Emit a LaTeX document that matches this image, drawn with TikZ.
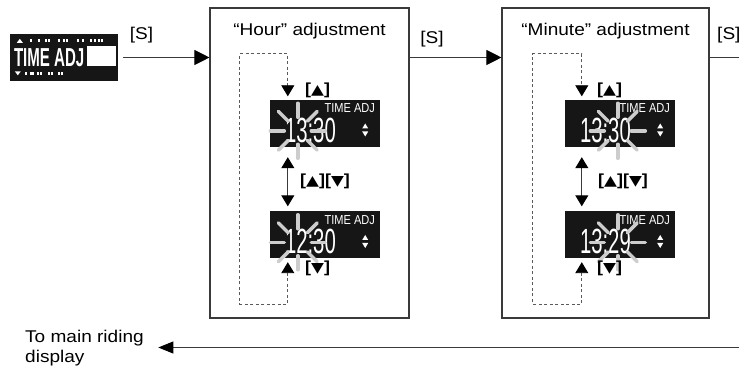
\documentclass[tikz,border=0pt]{standalone}
\usepackage{fontspec}
\usepackage{graphicx}
\setmainfont{Liberation Sans}[FakeStretch=1.12]
\newfontfamily\lcdfont{Liberation Sans}[FakeStretch=0.58]
\newfontfamily\lcdsmallfont{Liberation Sans}[FakeStretch=0.85]
\newfontfamily\symfont{DejaVu Sans}
\usetikzlibrary{arrows.meta,calc}
\definecolor{linegray}{HTML}{3A3A3A}
\definecolor{dashgray}{HTML}{5A5A5A}
\definecolor{raygray}{HTML}{CDCDCD}
\definecolor{lcdblack}{HTML}{161616}
\newcommand\kup{\scalebox{1.2}[1]{\symfont\fontsize{14}{14}\selectfont ▲}}
\newcommand\kdn{\scalebox{1.2}[1]{\symfont\fontsize{14}{14}\selectfont ▼}}
\newcommand\lcdscreen[4]{%
  \node[lcd] (#1) at (#2) {};
  \node[lcddigits, anchor=base west] (#1-d) at ($(#1.south west)+(15,-5)$) {#4};
  \node[lcdsmall, anchor=north east] (#1-s) at ($(#1.north east)+(-5,4)$) {TIME ADJ};
  \fill[white] ($(#1.east)+(-18,5)$) -- ++(6,0) -- ++(-3,-5) -- cycle;
  \fill[white] ($(#1.east)+(-18,8)$) -- ++(6,0) -- ++(-3,5) -- cycle;
  \foreach \a in {0,45,...,315}
    \draw[ray] ($(#1.north west)+(#3,31)+(\a:13.5)$) -- ($(#1.north west)+(#3,31)+(\a:27.5)$);
}
\begin{document}
\begin{tikzpicture}[x=1pt,y=-1pt,
  frame/.style={draw=linegray, line width=1.1pt, inner sep=0, minimum height=310pt},
  lcd/.style={fill=lcdblack, draw=none, inner sep=0, minimum width=110pt, minimum height=47pt},
  lcddigits/.style={text=white, font=\lcdfont\fontsize{35}{35}\selectfont, inner sep=0},
  lcdsmall/.style={text=white, font=\lcdsmallfont\fontsize{13}{13}\selectfont, inner sep=0},
  ray/.style={draw=raygray, line width=3.5pt, line cap=round},
  txt/.style={font=\fontsize{17}{20}\selectfont, inner sep=0, text=black},
  key/.style={font=\bfseries\fontsize{16}{16}\selectfont, inner sep=0, text=black},
  line/.style={draw=linegray, line width=1pt},
  bigarrow/.style={line, -{Triangle[width=15pt,length=15pt,black]}},
  backarrow/.style={line, -{Triangle[width=12pt,length=15pt,black]}},
  dloop/.style={draw=dashgray, line width=0.9pt, dash pattern=on 3pt off 2.5pt,
     {Triangle[width=13pt,length=11pt,black]}-{Triangle[width=13pt,length=11pt,black]}},
  both/.style={line, {Triangle[width=13pt,length=11pt,black]}-{Triangle[width=13pt,length=11pt,black]}}
]
\useasboundingbox (0,0) rectangle (739,371);

% frames
\node[frame, minimum width=199pt] (hbox) at (309.5,163) {};
\node[frame, minimum width=207pt] (mbox) at (605.5,163) {};
\node[txt, anchor=base] (htitle) at ($(hbox.north)+(0,28.5)$) {“Hour” adjustment};
\node[txt, anchor=base] (mtitle) at ($(mbox.north)+(0,28.5)$) {“Minute” adjustment};

% menu screen
\node[lcd, minimum width=108pt] (menu) at (64,57.5) {};
\node[text=white, font=\lcdfont\bfseries\fontsize{26}{26}\selectfont, inner sep=0, anchor=base west] (menu-t) at ($(menu.west)+(4,9)$) {TIME ADJ};
\fill[white] ($(menu-t.base east)+(2,0)$) rectangle ($(menu.east)+(-2,-11)$);
\fill[white] ($(menu.north west)+(7,9)$) -- ++(6,0) -- ++(-3,-4) -- cycle;
\foreach \x in {20,28,35,38,48,53,56,67,72,80,84,88,91}
  \fill[white] ($(menu.north west)+(\x,5.5)$) rectangle ++(1.8,3);
\fill[white] ($(menu.north west)+(5,37.5)$) -- ++(6,0) -- ++(-3,4) -- cycle;
\foreach \x in {15,20,22,27,30,38,41,48,51}
  \fill[white] ($(menu.north west)+(\x,38)$) rectangle ++(1.8,3);

% screens
\lcdscreen{d1}{325,123.5}{28}{13:30}
\lcdscreen{d2}{325,235}{28}{12:30}
\lcdscreen{d3}{620,123.5}{53}{13:30}
\lcdscreen{d4}{620,235}{53}{13:29}

% top flow
\draw[bigarrow] ($(menu.east)+(5,0)$) -- (menu.east -| hbox.west);
\draw[bigarrow] (menu.east -| hbox.east) -- (menu.east -| mbox.west);
\coordinate (outT) at (739,57.5);
\draw[line] (menu.east -| mbox.east) -- (outT);
\node[txt, anchor=base] (s1) at (141.5,40) {[S]};
\node[txt, anchor=base] (s2) at (432,44) {[S]};
\node[txt, anchor=base west] (s3) at (717,40) {[S]};

% loops in hour box
\draw[dloop] ($(d2.south west)+(18,3.5)$) -- ++(0,42) -- ++(-48,0) |- ($(d1.north west)+(18,-46)$) -- ($(d1.north west)+(18,-3.5)$);
\draw[both] ($(d1.south west)+(18,10)$) -- ($(d2.north west)+(18,-5)$);
\node[key, anchor=base west] (k1) at (305,95) {[\kup]};
\node[key, anchor=base west] (k2) at (300,186) {[\kup][\kdn]};
\node[key, anchor=base west] (k3) at (305,273) {[\kdn]};

% loops in minute box
\draw[dloop] ($(d4.south west)+(17,3.5)$) -- ++(0,42) -- ++(-49,0) |- ($(d3.north west)+(17,-46)$) -- ($(d3.north west)+(17,-3.5)$);
\draw[both] ($(d3.south west)+(17,10)$) -- ($(d4.north west)+(17,-5)$);
\node[key, anchor=base west] (k4) at (597,95) {[\kup]};
\node[key, anchor=base west] (k5) at (598,186) {[\kup][\kdn]};
\node[key, anchor=base west] (k6) at (597,273) {[\kdn]};

% return
\node[txt, anchor=north west, align=left] (back) at (25,330) {To main riding\\display};
\coordinate (outB) at (739,347.5);
\draw[backarrow, shorten >=14.4pt] (outB) -- (back.east |- outB);
\end{tikzpicture}
\end{document}
